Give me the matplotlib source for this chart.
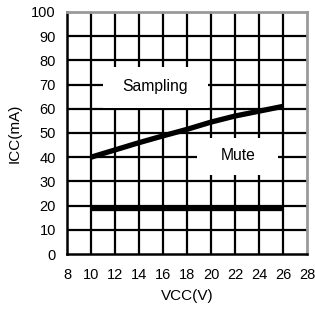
import matplotlib
matplotlib.use("Agg")
import matplotlib.pyplot as plt
from matplotlib.patches import Rectangle

plt.rcParams.update({"font.family": ["Liberation Sans", "DejaVu Sans"], "font.size": 10})

# data
vcc = [10, 12, 14, 16, 18, 20, 22, 24, 26]
icc_sampling = [40, 43, 46, 48.8, 51.5, 54.5, 57, 59, 61]
icc_mute = [19, 19, 19, 19, 19, 19, 19, 19, 19]
x_ticks = [8, 10, 12, 14, 16, 18, 20, 22, 24, 26, 28]
y_ticks = [0, 10, 20, 30, 40, 50, 60, 70, 80, 90, 100]

fig = plt.figure(figsize=(3.15, 3.14), dpi=100)
ax = fig.add_axes([0.2127, 0.191, 0.7619, 0.771])

ax.set_xlim(8, 28)
ax.set_ylim(0, 100)
ax.set_xticks(x_ticks)
ax.set_yticks(y_ticks)
ax.tick_params(length=0, labelsize=10.5)
ax.tick_params(axis="x", pad=10)
ax.tick_params(axis="y", pad=8)

# black grid
for xv in x_ticks[1:-1]:
    ax.axvline(xv, color="black", lw=1.6, zorder=1)
for yv in y_ticks[1:-1]:
    ax.axhline(yv, color="black", lw=1.6, zorder=1)

for side in ("left", "bottom"):
    ax.spines[side].set_color("black")
    ax.spines[side].set_linewidth(1.8)
for side in ("top", "right"):
    ax.spines[side].set_color("#999999")
    ax.spines[side].set_linewidth(2)

# white label boxes
ax.add_patch(Rectangle((11, 60.3), 8.75, 17, facecolor="white", edgecolor="none", zorder=2))
ax.add_patch(Rectangle((18.8, 32.6), 6.8, 15.4, facecolor="white", edgecolor="none", zorder=2))
ax.text(15.35, 69.4, "Sampling", ha="center", va="center", fontsize=11.3, zorder=5)
ax.text(22.25, 40.5, "Mute", ha="center", va="center", fontsize=11.3, zorder=5)

ax.plot(vcc, icc_sampling, color="black", lw=3.8, solid_capstyle="butt", zorder=4)
ax.plot(vcc, icc_mute, color="black", lw=3.8, solid_capstyle="butt", zorder=4)

ax.set_xlabel("VCC(V)", fontsize=11, labelpad=5)
ax.set_ylabel("ICC(mA)", fontsize=11, labelpad=7)

fig.savefig("out.png", dpi=100)
